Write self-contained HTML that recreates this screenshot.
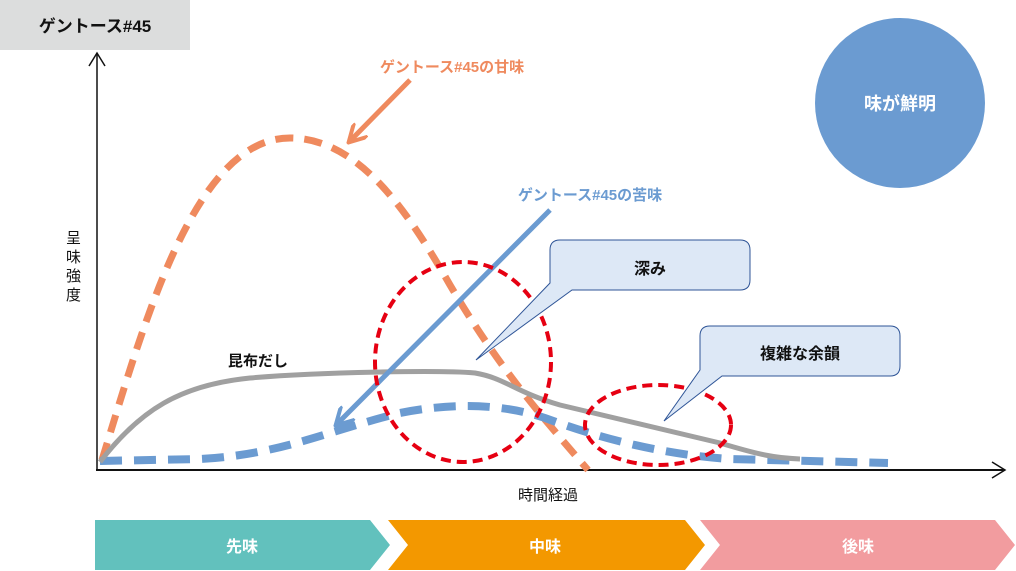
<!DOCTYPE html>
<html><head><meta charset="utf-8"><style>
html,body{margin:0;padding:0;background:#fff;}
svg{display:block;}
text{font-family:"Liberation Sans","Noto Sans CJK JP",sans-serif;}
</style></head><body>
<svg width="1016" height="571" viewBox="0 0 1016 571" xmlns="http://www.w3.org/2000/svg">
<defs>
<marker id="ab" viewBox="0 0 10 10" refX="8" refY="5" markerWidth="4" markerHeight="4" orient="auto"><path d="M0,0 L9,5 L0,10" fill="none" stroke="#6b9bd1" stroke-width="2"/></marker>
<marker id="ao" viewBox="0 0 10 10" refX="8" refY="5" markerWidth="4" markerHeight="4" orient="auto"><path d="M0,0 L9,5 L0,10" fill="none" stroke="#ef8a5e" stroke-width="2"/></marker>
</defs>
<rect x="0" y="0" width="190" height="50" fill="#dcdddd"/>
<text x="95" y="32" text-anchor="middle" font-size="17" font-weight="bold" fill="#111">ゲントース#45</text>
<line x1="97" y1="53" x2="97" y2="471" stroke="#111" stroke-width="1.5"/>
<path d="M89,66 L97,53 L105,66" fill="none" stroke="#111" stroke-width="1.5"/>
<line x1="96" y1="470" x2="1005" y2="470" stroke="#111" stroke-width="2"/>
<path d="M992,462 L1005,470 L992,478" fill="none" stroke="#111" stroke-width="1.5"/>
<text font-size="15" fill="#111"><tspan x="66" y="243">呈</tspan><tspan x="66" y="262">味</tspan><tspan x="66" y="281">強</tspan><tspan x="66" y="300">度</tspan></text>
<text x="548" y="500" text-anchor="middle" font-size="15" fill="#111">時間経過</text>
<circle cx="900" cy="103" r="85" fill="#6b9bd1"/>
<text x="900" y="110" text-anchor="middle" font-size="18" font-weight="bold" fill="#fff">味が鮮明</text>
<path d="M102,460 C145,320 195,138 290,138 C360,138 410,215 450,285 C500,370 545,420 588,470" fill="none" stroke="#ef8a5e" stroke-width="7" stroke-dasharray="18,11"/>
<path d="M100,461 L200,459 C280,455 330,430 400,413 C450,403 500,403 545,418 C610,442 670,455 730,459 L888,463" fill="none" stroke="#6b9bd1" stroke-width="8" stroke-dasharray="22,12"/>
<path d="M100,462 C140,410 180,385 250,378 C320,372 440,370 475,373 C505,378 515,392 560,405 L720,443 C760,455 775,458 800,459" fill="none" stroke="#a0a0a0" stroke-width="5"/>
<text x="258" y="366" text-anchor="middle" font-size="15" font-weight="bold" fill="#111">昆布だし</text>
<line x1="550" y1="210" x2="337" y2="424" stroke="#6b9bd1" stroke-width="5" marker-end="url(#ab)"/>
<text x="590" y="200" text-anchor="middle" font-size="15" font-weight="bold" fill="#6b9bd1">ゲントース#45の苦味</text>
<line x1="410" y1="80" x2="350" y2="141" stroke="#ef8a5e" stroke-width="5" marker-end="url(#ao)"/>
<text x="452" y="72" text-anchor="middle" font-size="15" font-weight="bold" fill="#ef8a5e">ゲントース#45の甘味</text>
<ellipse cx="463" cy="362" rx="88" ry="100" fill="none" stroke="#e60012" stroke-width="4" stroke-dasharray="10,6"/>
<ellipse cx="658" cy="425" rx="73" ry="40" fill="none" stroke="#e60012" stroke-width="4" stroke-dasharray="10,6"/>
<path d="M560,240 H740 Q750,240 750,250 V280 Q750,290 740,290 H572 L476,360 L550,283 V250 Q550,240 560,240 Z" fill="#dde8f6" stroke="#2f5597" stroke-width="1"/>
<text x="650" y="274" text-anchor="middle" font-size="16" font-weight="bold" fill="#111">深み</text>
<path d="M710,326 H890 Q900,326 900,336 V366 Q900,376 890,376 H722 L664,421 L700,370 V336 Q700,326 710,326 Z" fill="#dde8f6" stroke="#2f5597" stroke-width="1"/>
<text x="800" y="359" text-anchor="middle" font-size="16" font-weight="bold" fill="#111">複雑な余韻</text>
<polygon points="95,520 370,520 390,545 370,570 95,570" fill="#62c1bd"/>
<polygon points="388,520 685,520 705,545 685,570 388,570 408,545" fill="#f39800"/>
<polygon points="700,520 995,520 1015,545 995,570 700,570 720,545" fill="#f29c9f"/>
<text x="242" y="552" text-anchor="middle" font-size="16" font-weight="bold" fill="#fff">先味</text>
<text x="545" y="552" text-anchor="middle" font-size="16" font-weight="bold" fill="#fff">中味</text>
<text x="858" y="552" text-anchor="middle" font-size="16" font-weight="bold" fill="#fff">後味</text>
</svg>
</body></html>
